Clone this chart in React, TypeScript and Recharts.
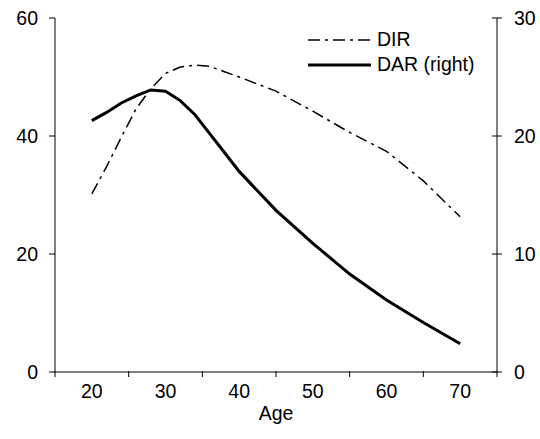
import React from 'react';
import { LineChart, Line, XAxis, YAxis } from 'recharts';

const ages = [20, 22, 24, 26, 28, 30, 32, 34, 36, 38, 40, 45, 50, 55, 60, 65, 70];
const dirValues = [30.2, 34.8, 39.8, 44.6, 48.0, 50.6, 51.7, 52.0, 51.8, 50.9, 50.0, 47.6, 44.2, 40.6, 37.4, 32.4, 26.3];
const darValues = [21.3, 22.0, 22.8, 23.4, 23.9, 23.8, 23.0, 21.8, 20.2, 18.6, 17.0, 13.7, 10.9, 8.3, 6.1, 4.2, 2.4];
const xTicks = [15, 20, 25, 30, 35, 40, 45, 50, 55, 60, 65, 70, 75];
const leftTicks = [0, 20, 40, 60];
const rightTicks = [0, 10, 20, 30];
const seriesNames = ['DIR', 'DAR (right)'];

const data = ages.map((age, i) => ({ age, dir: dirValues[i], dar: darValues[i] }));

const FONT = "Arial, 'Liberation Sans', sans-serif";
const FS = 19.5;

const XTick = (props: any) => {
  const { x, y, payload } = props;
  const v = payload.value;
  if (v % 10 === 5) {
    return <line x1={x} x2={x} y1={y - 13} y2={y - 7} stroke="#000" strokeWidth={1} />;
  }
  return (
    <text x={x} y={y} dy="0.71em" textAnchor="middle" fontFamily={FONT} fontSize={FS} fill="#000">
      {v}
    </text>
  );
};

const RightTick = (props: any) => {
  const { x, y, payload } = props;
  const ax = x - 17;
  return (
    <g>
      <line x1={ax - 5} x2={ax + 5} y1={y} y2={y} stroke="#000" strokeWidth={1} />
      <text x={x} y={y} dy="0.355em" textAnchor="start" fontFamily={FONT} fontSize={FS} fill="#000">
        {payload.value}
      </text>
    </g>
  );
};

const LegendBox = () => (
  <div
    style={{
      position: 'absolute',
      left: 308,
      top: 27,
      fontFamily: FONT,
      fontSize: FS,
      color: '#000',
      lineHeight: '25px',
      pointerEvents: 'none',
    }}
  >
    <div style={{ display: 'flex', alignItems: 'center' }}>
      <svg width={69} height={10}>
        <line x1={0} x2={63} y1={5} y2={5} stroke="#000" strokeWidth={1.5} strokeDasharray="12 5 3 5" />
      </svg>
      <span>{seriesNames[0]}</span>
    </div>
    <div style={{ display: 'flex', alignItems: 'center' }}>
      <svg width={69} height={10}>
        <line x1={0} x2={63} y1={5} y2={5} stroke="#000" strokeWidth={3} />
      </svg>
      <span>{seriesNames[1]}</span>
    </div>
  </div>
);

export default function App() {
  return (
    <div style={{ position: 'absolute', left: 0, top: 0, width: 540, height: 439 }}>
      <LineChart width={540} height={439} data={data} margin={{ top: 18, right: 0, left: 0, bottom: 0 }}>
        <XAxis
          dataKey="age"
          type="number"
          domain={[15, 75]}
          ticks={xTicks}
          interval={0}
          tickLine={false}
          tickSize={6}
          tickMargin={6}
          tick={<XTick />}
          height={67}
          stroke="#000"
          label={{ value: 'Age', position: 'insideBottom', offset: 19, fontFamily: FONT, fontSize: FS, fill: '#000' }}
        />
        <YAxis
          yAxisId="left"
          orientation="left"
          domain={[0, 60]}
          ticks={leftTicks}
          interval={0}
          width={55}
          tickSize={6}
          tickMargin={11}
          stroke="#000"
          tick={{ fontFamily: FONT, fontSize: FS, fill: '#000' }}
        />
        <YAxis
          yAxisId="right"
          orientation="right"
          domain={[0, 30]}
          ticks={rightTicks}
          interval={0}
          width={43}
          tickSize={5}
          tickMargin={12}
          tickLine={false}
          stroke="#000"
          tick={<RightTick />}
        />
        <Line
          yAxisId="left"
          dataKey="dir"
          type="linear"
          stroke="#000"
          strokeWidth={1.5}
          strokeDasharray="12 5 3 5"
          dot={false}
          isAnimationActive={false}
        />
        <Line
          yAxisId="right"
          dataKey="dar"
          type="linear"
          stroke="#000"
          strokeWidth={3}
          dot={false}
          isAnimationActive={false}
        />
      </LineChart>
      <LegendBox />
    </div>
  );
}
